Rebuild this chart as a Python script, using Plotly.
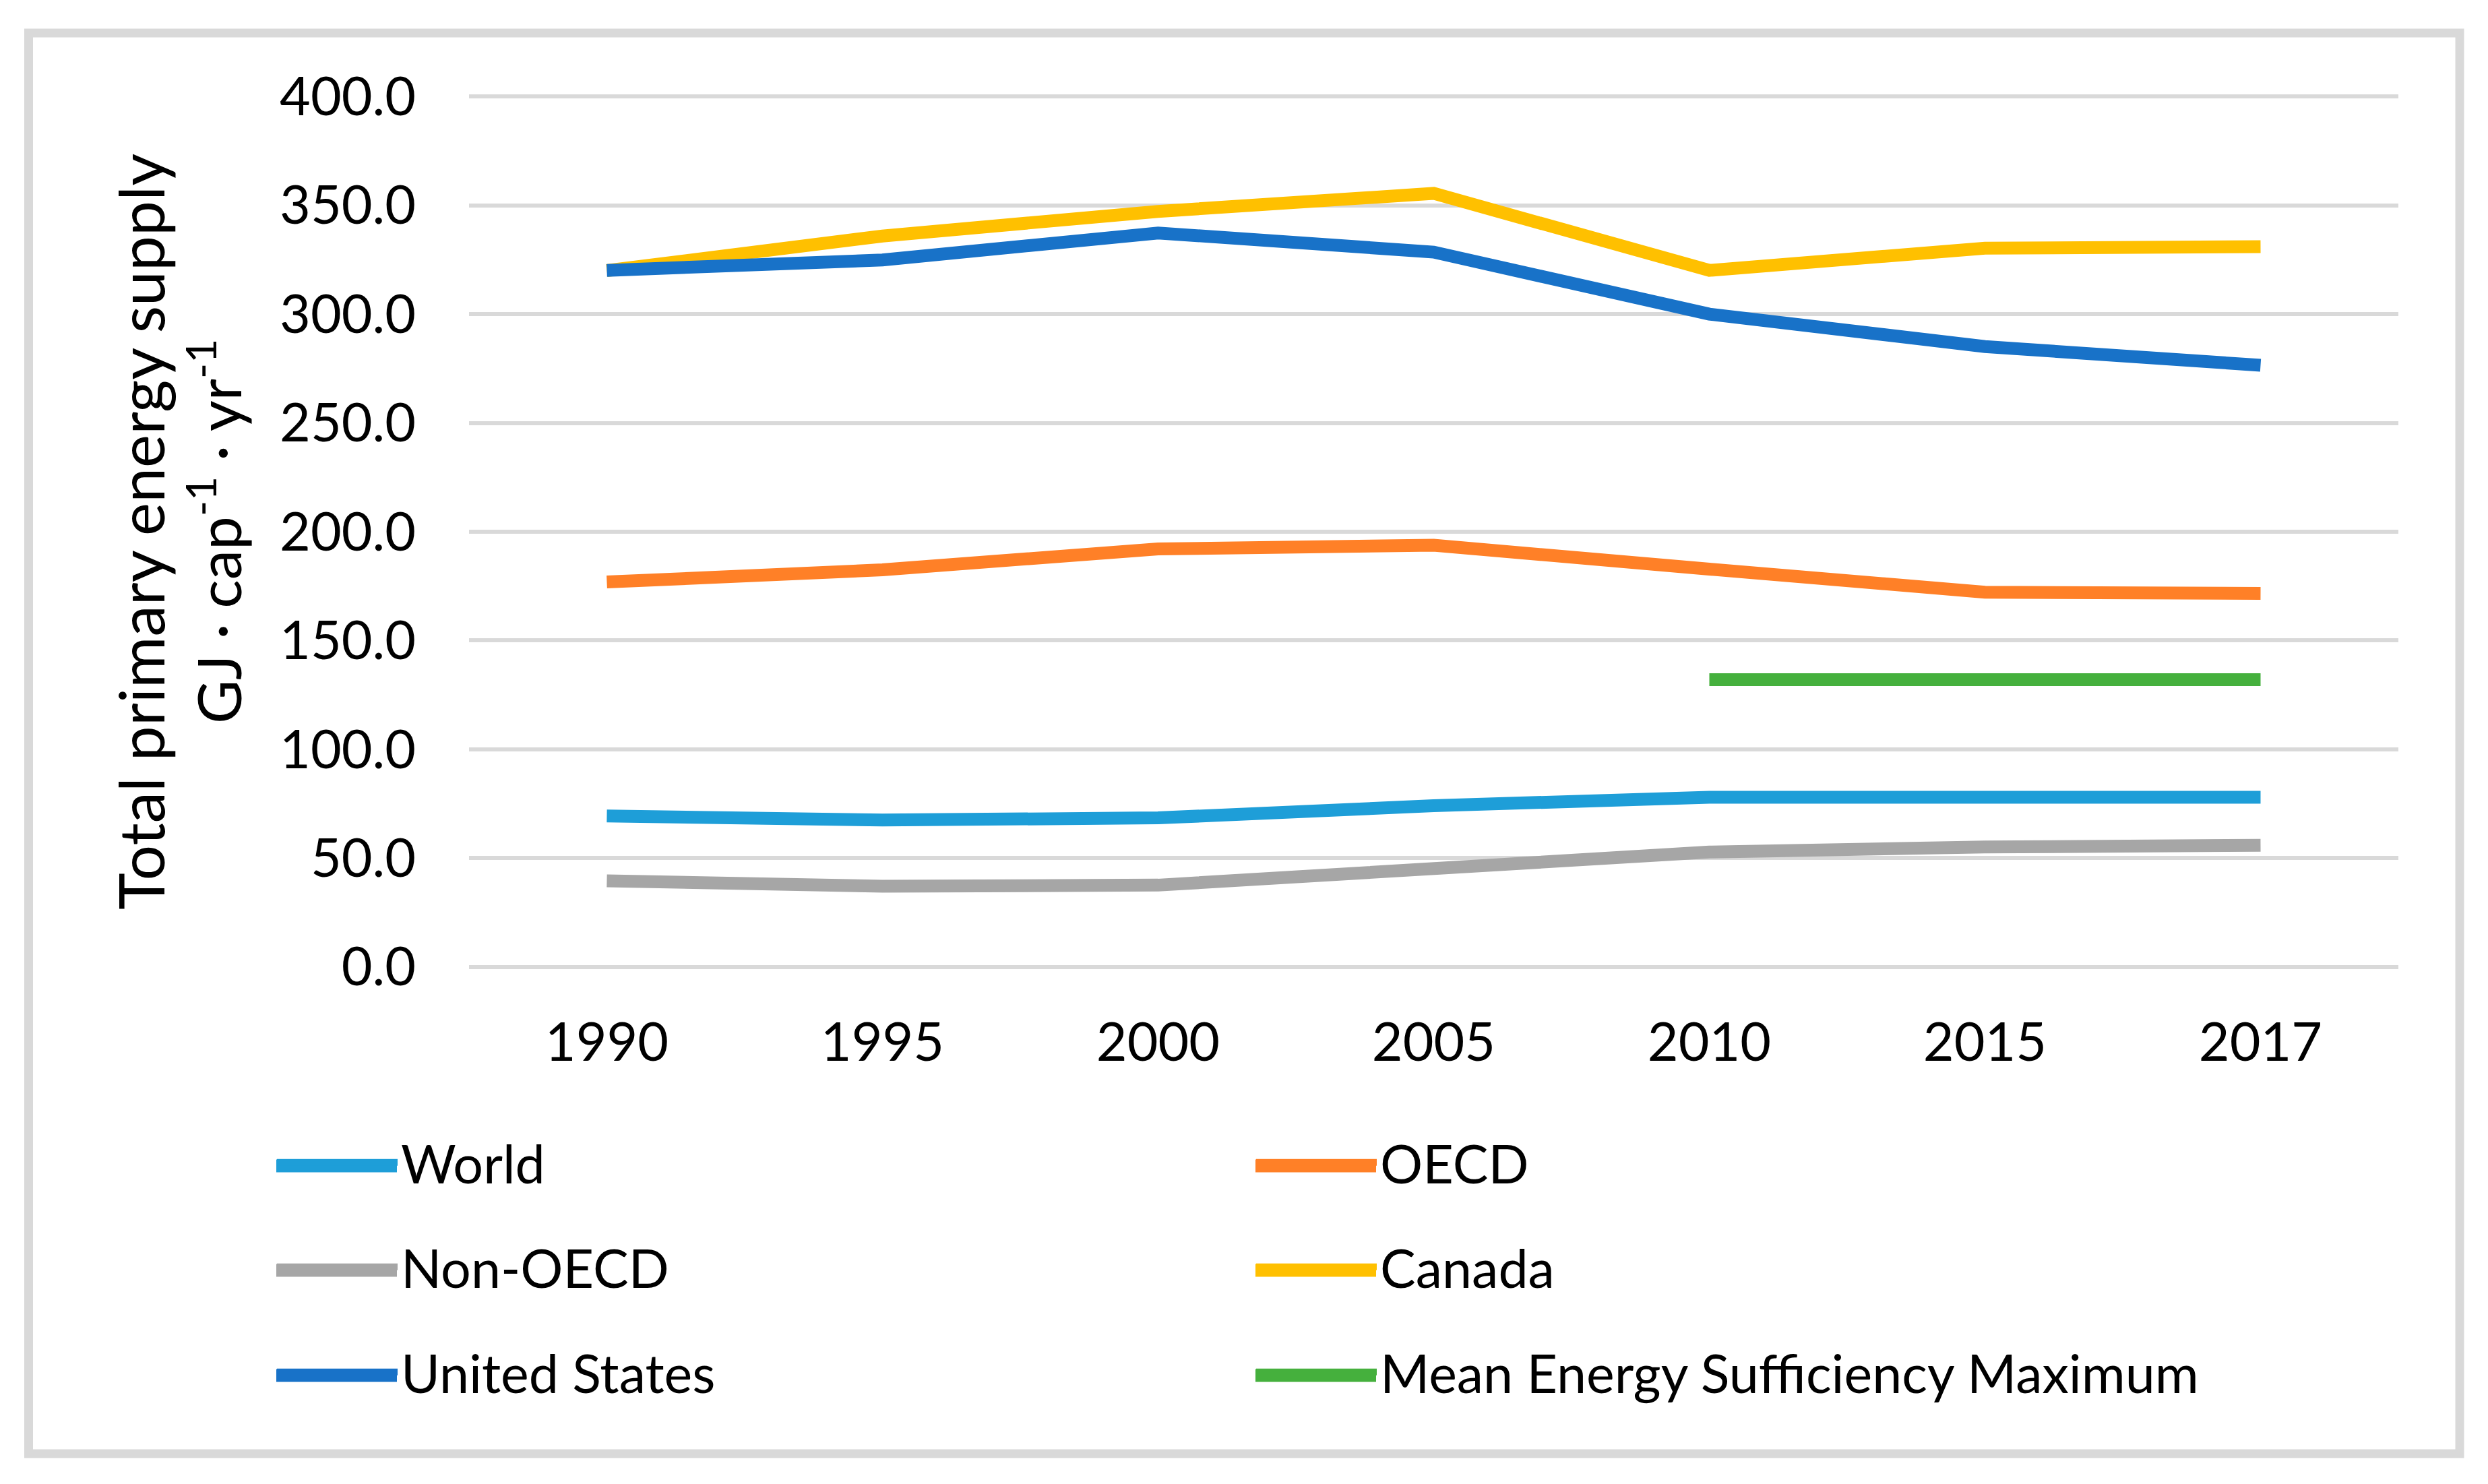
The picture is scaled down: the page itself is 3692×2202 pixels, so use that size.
import plotly.graph_objects as go

years = ["1990", "1995", "2000", "2005", "2010", "2015", "2017"]
world = [69.4, 67.5, 68.5, 74.1, 78.0, 78.0, 78.0]
oecd = [176.9, 182.5, 192.1, 193.8, 182.8, 172.2, 171.7]
non_oecd = [39.6, 37.1, 37.6, 45.0, 52.8, 55.1, 55.9]
canada = [320.0, 335.9, 347.2, 355.5, 320.1, 330.3, 331.0]
united_states = [320.1, 324.9, 337.3, 328.5, 300.0, 285.1, 276.5]
mesm_years = ["2010", "2015", "2017"]
mesm = [132.0, 132.0, 132.0]

y_ticks = [0, 50, 100, 150, 200, 250, 300, 350, 400]

W, H = 3692, 2202
OFF = 8  # page body margin offset
# target plot area in page pixels: x 696..3559, value 400 at y=143, 0 at y=1435
L = 696 - OFF
R = W - (3559 - OFF)
T = 140 - OFF
B = H - (1438 - OFF)
PW = W - L - R
PH = H - T - B


def px(x):
    """page x pixel -> paper coordinate"""
    return (x - OFF - L) / PW


def py(y):
    """page y pixel -> paper coordinate"""
    return (H - B - (y - OFF)) / PH


FONT = "Lato"
LW = 19

series = [
    ("World", years, world, "#1E9ED8", "legend"),
    ("OECD", years, oecd, "#FF8027", "legend"),
    ("Non-OECD", years, non_oecd, "#A6A6A6", "legend2"),
    ("Canada", years, canada, "#FFC000", "legend2"),
    ("United States", years, united_states, "#1872C8", "legend3"),
    ("Mean Energy Sufficiency Maximum", mesm_years, mesm, "#45B03D", "legend3"),
]

fig = go.Figure()
for name, xs, ys, color, leg in series:
    fig.add_trace(go.Scatter(
        x=xs, y=ys, name=name, mode="lines",
        line=dict(color=color, width=LW),
        legend=leg, hoverinfo="skip",
    ))

row_y = [1730, 1885, 2041]
col_x = [410, 1863]

leg_common = dict(
    orientation="h",
    xanchor="left",
    yanchor="middle",
    x=px(406),
    font=dict(family=FONT, size=79, color="black"),
    itemwidth=179,
    entrywidth=1259,
    bgcolor="rgba(0,0,0,0)",
)

# thick legend swatches (plotly caps legend line width)
shapes = [
    dict(
        type="rect", xref="paper", yref="paper",
        x0=px(42.5), x1=px(3650), y0=py(2157), y1=py(49),
        line=dict(color="#D9D9D9", width=13),
        fillcolor="rgba(0,0,0,0)",
        layer="below",
    )
]
for i, (name, xs, ys, color, leg) in enumerate(series):
    r, c = divmod(i, 2)
    shapes.append(dict(
        type="line", xref="paper", yref="paper",
        x0=px(col_x[c]), x1=px(col_x[c] + 179),
        y0=py(row_y[r]), y1=py(row_y[r]),
        line=dict(color=color, width=LW),
        layer="above",
    ))

fig.update_layout(
    width=W, height=H,
    margin=dict(l=L, r=R, t=T, b=B, autoexpand=False),
    paper_bgcolor="white",
    plot_bgcolor="white",
    font=dict(family=FONT, size=79, color="black"),
    showlegend=True,
    legend=dict(leg_common, y=py(row_y[0] - 5)),
    legend2=dict(leg_common, y=py(row_y[1] - 5)),
    legend3=dict(leg_common, y=py(row_y[2] - 5)),
    xaxis=dict(
        type="category",
        categoryorder="array",
        categoryarray=years,
        range=[-0.5, 6.5],
        showgrid=False,
        zeroline=False,
        showline=False,
        ticks="",
        tickfont=dict(family=FONT, size=79, color="black"),
        ticklabelstandoff=56,
    ),
    yaxis=dict(
        range=[-1, 401],
        tickvals=y_ticks,
        tickformat=".1f",
        showgrid=True,
        gridcolor="#D9D9D9",
        gridwidth=6,
        zeroline=False,
        showline=False,
        ticks="",
        tickfont=dict(family=FONT, size=79, color="black"),
        ticklabelstandoff=78,
    ),
    shapes=shapes,
    annotations=[
        dict(
            text="Total primary energy supply",
            textangle=-90, xref="paper", yref="paper",
            x=px(208), y=py(789), xanchor="center", yanchor="middle",
            showarrow=False,
            font=dict(family=FONT, size=93, color="black"),
        ),
        dict(
            text="GJ · cap<sup>-1</sup> · yr<sup>-1</sup>",
            textangle=-90, xref="paper", yref="paper",
            x=px(318), y=py(789), xanchor="center", yanchor="middle",
            showarrow=False,
            font=dict(family=FONT, size=89, color="black"),
        ),
    ],
)

fig.write_html("out.html")
